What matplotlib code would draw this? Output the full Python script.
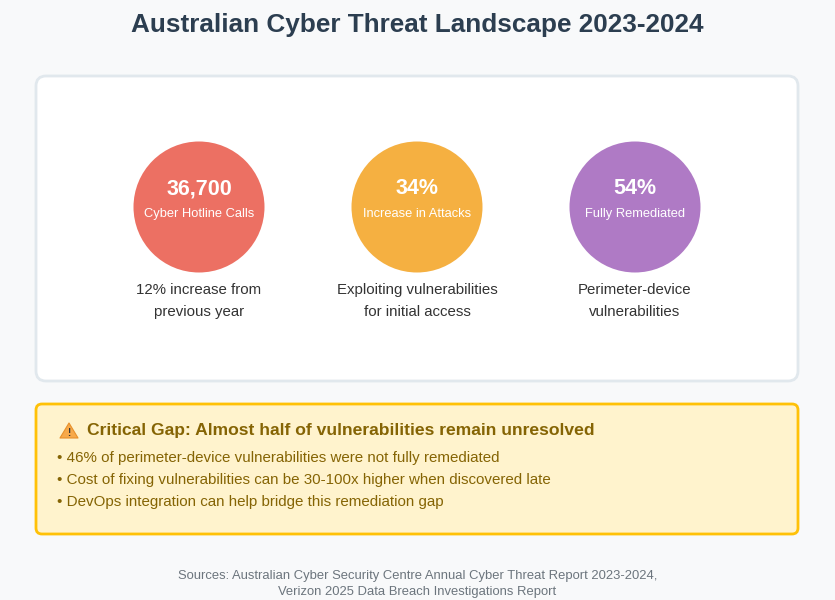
import matplotlib.pyplot as plt
from matplotlib.patches import FancyBboxPatch, Circle, Polygon

plt.rcParams['font.family'] = ['Liberation Sans', 'DejaVu Sans']

title = "Australian Cyber Threat Landscape 2023-2024"

# stat circles
stat_values = ["36,700", "34%", "54%"]
stat_labels = ["Cyber Hotline Calls", "Increase in Attacks", "Fully Remediated"]
stat_notes = ["12% increase from\nprevious year",
              "Exploiting vulnerabilities\nfor initial access",
              "Perimeter-device\nvulnerabilities"]
stat_colors = ["#ec7063", "#f5b041", "#af7ac5"]

gap_heading = "Critical Gap: Almost half of vulnerabilities remain unresolved"
gap_points = [
    "46% of perimeter-device vulnerabilities were not fully remediated",
    "Cost of fixing vulnerabilities can be 30-100x higher when discovered late",
    "DevOps integration can help bridge this remediation gap",
]

sources = ("Sources: Australian Cyber Security Centre Annual Cyber Threat Report 2023-2024,\n"
           "Verizon 2025 Data Breach Investigations Report")

W, H = 835, 600
fig = plt.figure(figsize=(W / 100, H / 100), dpi=100)
fig.patch.set_facecolor("#f8f9fa")
ax = fig.add_axes([0, 0, 1, 1])
ax.set_xlim(0, W)
ax.set_ylim(H, 0)
ax.axis("off")

ax.text(W / 2, 25, title, ha="center", va="center", fontsize=18.8,
        fontweight="bold", color="#2c3e50")

# white card
card = FancyBboxPatch((36, 76), 762, 305, boxstyle="round,pad=0,rounding_size=10",
                      facecolor="white", edgecolor="#e1e8ed", linewidth=2)
ax.add_patch(card)

xs = [199, 417, 635]
for x, val, lab, note, col in zip(xs, stat_values, stat_labels, stat_notes, stat_colors):
    ax.add_patch(Circle((x, 207), 65.5, facecolor=col, edgecolor="none"))
    ax.text(x, 189, val, ha="center", va="center", fontsize=15.5,
            fontweight="bold", color="white")
    ax.text(x, 214, lab, ha="center", va="center", fontsize=9.3, color="white")
    ax.text(x, 301, note, ha="center", va="center", fontsize=10.8,
            color="#333333", linespacing=1.78)

# yellow warning box
box = FancyBboxPatch((36, 404), 762, 130, boxstyle="round,pad=0,rounding_size=6",
                     facecolor="#fff3cd", edgecolor="#ffc107", linewidth=2)
ax.add_patch(box)

ax.add_patch(Polygon([[60, 438], [78, 438], [69, 423]], closed=True,
                     facecolor="#f7a94a", edgecolor="#e8902a", linewidth=0.8,
                     joinstyle="round"))
ax.text(69, 433, "!", ha="center", va="center", fontsize=7, fontweight="bold",
        color="#333333")
ax.text(87, 431, gap_heading, ha="left", va="center", fontsize=12.6,
        fontweight="bold", color="#856404")

for i, p in enumerate(gap_points):
    ax.text(57, 458 + 22 * i, "\u2022 " + p, ha="left", va="center",
            fontsize=10.9, color="#856404")

ax.text(W / 2, 584, sources, ha="center", va="center", fontsize=9.35,
        color="#6c757d", linespacing=1.4)

fig.savefig("out.png", dpi=100, facecolor=fig.get_facecolor())
